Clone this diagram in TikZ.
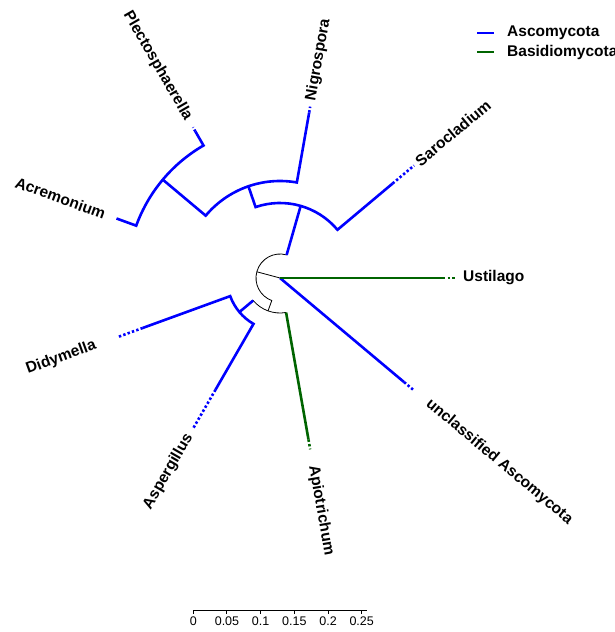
\documentclass[tikz,border=0pt]{standalone}
\usepackage{fontspec}
\setmainfont{Liberation Sans}
\usetikzlibrary{calc}
\definecolor{ascoblue}{RGB}{0,0,255}
\definecolor{basigreen}{RGB}{0,100,0}

\begin{document}
\begin{tikzpicture}[x=1pt, y=1pt,
    asco/.style={draw=ascoblue, line width=2.6pt},
    basi/.style={draw=basigreen, line width=2.6pt},
    rootedge/.style={draw=black, line width=0.8pt},
    tipdots/.style={dash pattern=on 2.4pt off 2.2pt},
    taxon/.style={inner sep=0pt, font=\bfseries\fontsize{15.5}{18}\selectfont},
    ticklabel/.style={inner sep=0pt, anchor=north, font=\fontsize{12.5}{14}\selectfont}]
  \useasboundingbox (0,0) rectangle (615,632);
  \begin{scope}[shift={(280,354)}]
    % internal nodes
    \coordinate (root) at (0,0);
    \coordinate (nA) at (165:24);
    \coordinate (nU) at (74:75);
    \coordinate (nU2) at (109:97);
    \coordinate (nU3) at (140:153);
    \coordinate (nL) at (250:35);
    \coordinate (nL2) at (220:53);
    % tips: name/angle/end of line/end of dots
    \foreach \tip/\ang/\ra/\rb in {usti/0/163/175, uncl/-40/162/174, apio/280/164/174,
        aspe/240/129/174, didy/200/146/173, acre/160/174/174, plec/120/169/174,
        nigr/80/168/174, saro/40/147/175} {
      \coordinate (\tip) at (\ang:\ra);
      \coordinate (\tip-end) at (\ang:\rb);
    }

    \draw[rootedge] (root) -- (nA);
    \draw[rootedge] (74:24) arc[start angle=74, end angle=250, radius=24pt] -- (nL);
    \draw[rootedge] (220:35) arc[start angle=220, end angle=280, radius=35pt];

    \draw[asco] (74:24) -- (nU);
    \draw[asco] (saro) -- (40:75) arc[start angle=40, end angle=109, radius=75pt] -- (nU2);
    \draw[asco] (nigr) -- (80:97) arc[start angle=80, end angle=140, radius=97pt] -- (nU3);
    \draw[asco] (acre) -- (160:153) arc[start angle=160, end angle=120, radius=153pt] -- (plec);
    \draw[asco] (220:35) -- (nL2);
    \draw[asco] (didy) -- (200:53) arc[start angle=200, end angle=240, radius=53pt] -- (aspe);
    \draw[asco] (root) -- (uncl);
    \draw[basi] (root) -- (usti);
    \draw[basi] (280:35) -- (apio);

    \draw[basi, tipdots] (usti) -- (usti-end);
    \draw[basi, tipdots] (apio) -- (apio-end);
    \draw[asco, tipdots] (uncl) -- (uncl-end);
    \draw[asco, tipdots] (aspe) -- (aspe-end);
    \draw[asco, tipdots] (didy) -- (didy-end);
    \draw[asco, tipdots] (plec) -- (plec-end);
    \draw[asco, tipdots] (nigr) -- (nigr-end);
    \draw[asco, tipdots] (saro) -- (saro-end);

    \node[taxon, anchor=west] (ustilago) at (0:183) {Ustilago};
    \node[taxon, anchor=west, rotate=-40] (unclassified) at (-40:193) {unclassified Ascomycota};
    \node[taxon, anchor=west, rotate=-80] (apiotrichum) at (280:190) {Apiotrichum};
    \node[taxon, anchor=east, rotate=60] (aspergillus) at (240:181) {Aspergillus};
    \node[taxon, anchor=east, rotate=20] (didymella) at (200:196) {Didymella};
    \node[taxon, anchor=east, rotate=-20] (acremonium) at (160:186) {Acremonium};
    \node[taxon, anchor=east, rotate=-60] (plectosphaerella) at (120:183) {Plectosphaerella};
    \node[taxon, anchor=west, rotate=80] (nigrospora) at (80:180) {Nigrospora};
    \node[taxon, anchor=west, rotate=40] (sarocladium) at (40:179) {Sarocladium};
  \end{scope}

  % legend
  \coordinate (keyA) at (477,599);
  \coordinate (keyB) at (477,580);
  \draw[asco, line width=2.4pt] (keyA) -- ++(17,0);
  \draw[basi, line width=2.4pt] (keyB) -- ++(17,0);
  \node[taxon, anchor=west] (ascolabel) at (507,599) {Ascomycota};
  \node[taxon, anchor=west] (basilabel) at (507,580) {Basidiomycota};

  % scale bar
  \coordinate (bar0) at (193.3,21);
  \coordinate (bar1) at (366.5,21);
  \draw[line width=1pt] (bar0) -- (bar1);
  \foreach \k/\val in {0/0, 1/0.05, 2/0.1, 3/0.15, 4/0.2, 5/0.25} {
    \draw[line width=1pt] ($(bar0)+(33.68*\k,0)$) -- ++(0,-3)
      node[ticklabel, yshift=-2.5pt] {\val};
  }
\end{tikzpicture}
\end{document}
